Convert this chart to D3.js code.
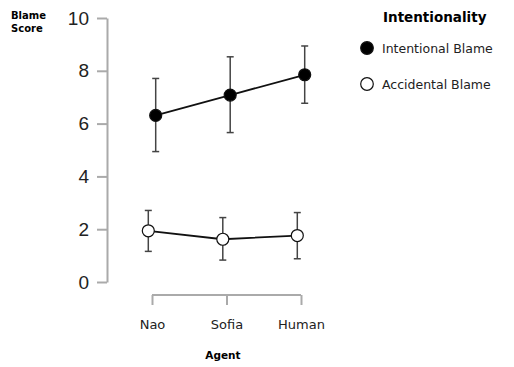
<!DOCTYPE html>
<html>
<head>
<meta charset="utf-8">
<script src="https://cdn.jsdelivr.net/npm/d3@7"></script>
<style>
body { margin: 0; background: #fff; }
.axis path, .axis line { stroke: #aaa; stroke-width: 2; }
</style>
</head>
<body>
<div id="chart"></div>
<script>
var agents = ["Nao", "Sofia", "Human"];
var seriesNames = ["Intentional Blame", "Accidental Blame"];
var intentionalMean = [6.31, 7.08, 7.85];
var intentionalLow = [4.94, 5.66, 6.77];
var intentionalHigh = [7.71, 8.53, 8.94];
var accidentalMean = [1.94, 1.62, 1.76];
var accidentalLow = [1.16, 0.83, 0.88];
var accidentalHigh = [2.71, 2.44, 2.63];
var yTicks = [0, 2, 4, 6, 8, 10];

var fullWidth = 514, fullHeight = 367;

var series = [
    { name: seriesNames[0], fill: "#000", dodge: 3.7,
      rows: agents.map((a, i) => ({ agent: a, mean: intentionalMean[i], lo: intentionalLow[i], hi: intentionalHigh[i] })) },
    { name: seriesNames[1], fill: "#fff", dodge: -3.7,
      rows: agents.map((a, i) => ({ agent: a, mean: accidentalMean[i], lo: accidentalLow[i], hi: accidentalHigh[i] })) }
];

var y = d3.scaleLinear().domain([0, 10]).range([282, 18]);
var x = d3.scalePoint().domain(agents).range([152, 301]);

var svg = d3.select("#chart").append("svg")
    .attr("width", fullWidth).attr("height", fullHeight);

// y axis
var yAxisG = svg.append("g").attr("class", "axis y")
    .attr("transform", "translate(107,0)")
    .call(d3.axisLeft(y).tickValues(yTicks).tickSize(10).tickSizeOuter(0).tickPadding(8));
yAxisG.selectAll("text")
    .style("font-family", "Liberation Sans, Arial, sans-serif")
    .style("font-size", "19px").attr("fill", "#222");

// x axis
var xAxisG = svg.append("g").attr("class", "axis x")
    .attr("transform", "translate(0,295)")
    .call(d3.axisBottom(x).tickSize(10).tickSizeOuter(0).tickPadding(15));
xAxisG.select(".domain").attr("d", "M" + x("Nao") + ",0H" + x("Human"));
xAxisG.selectAll("text")
    .style("font-family", "DejaVu Sans, Verdana, sans-serif")
    .style("font-size", "13px").attr("fill", "#222");

// axis titles
svg.append("text").attr("x", 11).attr("y", 19)
    .style("font-family", "DejaVu Sans, Verdana, sans-serif")
    .style("font-size", "10px").style("font-weight", "bold")
    .selectAll("tspan").data(["Blame", "Score"]).enter().append("tspan")
    .attr("x", 11).attr("dy", (d, i) => i ? 13 : 0).text(d => d);

svg.append("text").attr("x", 223).attr("y", 359).attr("text-anchor", "middle")
    .style("font-family", "DejaVu Sans, Verdana, sans-serif")
    .style("font-size", "10.5px").style("font-weight", "bold")
    .text("Agent");

var line = d3.line()
    .x(d => x(d.agent))
    .y(d => y(d.mean));

series.forEach(function (s) {
    var g = svg.append("g").attr("transform", "translate(" + s.dodge + ",0)");
    var eb = g.selectAll(".eb").data(s.rows).enter().append("g").attr("class", "eb");
    eb.append("line")
        .attr("x1", d => x(d.agent)).attr("x2", d => x(d.agent))
        .attr("y1", d => y(d.lo)).attr("y2", d => y(d.hi))
        .attr("stroke", "#444").attr("stroke-width", 1.5);
    ["lo", "hi"].forEach(function (k) {
        eb.append("line")
            .attr("x1", d => x(d.agent) - 3.5).attr("x2", d => x(d.agent) + 3.5)
            .attr("y1", d => y(d[k])).attr("y2", d => y(d[k]))
            .attr("stroke", "#444").attr("stroke-width", 1.5);
    });
    g.append("path").datum(s.rows)
        .attr("d", line).attr("fill", "none")
        .attr("stroke", "#111").attr("stroke-width", 1.8);
    g.selectAll("circle").data(s.rows).enter().append("circle")
        .attr("cx", d => x(d.agent)).attr("cy", d => y(d.mean))
        .attr("r", 6).attr("fill", s.fill)
        .attr("stroke", "#111").attr("stroke-width", 1.2);
});

// legend
svg.append("text").attr("x", 383).attr("y", 22)
    .style("font-family", "DejaVu Sans, Verdana, sans-serif")
    .style("font-size", "13.5px").style("font-weight", "bold")
    .text("Intentionality");

var leg = svg.selectAll(".leg").data(series).enter().append("g")
    .attr("class", "leg")
    .attr("transform", (d, i) => "translate(367," + (48 + i * 36) + ")");
leg.append("circle").attr("r", 6.3)
    .attr("fill", d => d.fill).attr("stroke", "#111").attr("stroke-width", 1.2);
leg.append("text").attr("x", 15).attr("y", 4.5)
    .style("font-family", "DejaVu Sans, Verdana, sans-serif")
    .style("font-size", "12.5px").attr("fill", "#222")
    .text(d => d.name);
</script>
</body>
</html>
